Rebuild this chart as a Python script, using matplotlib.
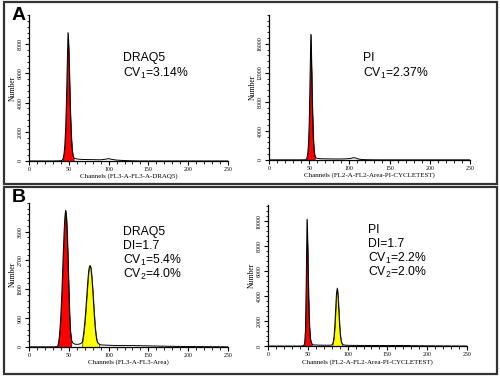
import matplotlib
matplotlib.use("Agg")
import matplotlib.pyplot as plt
from matplotlib.patches import Rectangle
from matplotlib.ticker import AutoMinorLocator

plt.rcParams['font.family'] = ['Liberation Sans', 'DejaVu Sans']
plt.rcParams['mathtext.fontset'] = 'custom'
plt.rcParams['mathtext.rm'] = 'Liberation Sans'

# panel A left: DRAQ5 (one peak)
ch_a1 = [0, 30, 38, 41, 42, 43, 44, 45, 46, 47, 48, 49, 50, 51, 52, 53, 54, 55, 56, 57, 60, 65,
         70, 80, 90, 96, 100, 104, 110, 120, 130, 140, 250]
n_a1 = [0, 0, 10, 30, 80, 200, 500, 1100, 2200, 4000, 6500, 8800, 7600, 5400, 3300, 1800, 900, 450, 250, 180, 140, 110,
        100, 90, 80, 120, 160, 110, 60, 30, 10, 0, 0]
red_a1 = (42, 56)

# panel A right: PI (one peak)
ch_a2 = [0, 40, 45, 46, 47, 48, 49, 50, 51, 52, 53, 54, 55, 56, 57, 58, 60, 65, 75, 85, 95,
         102, 105, 108, 111, 116, 125, 140, 250]
n_a2 = [0, 0, 10, 40, 200, 700, 2000, 5000, 11000, 17300, 12500, 7000, 3200, 1300, 550, 300, 200, 150, 130, 120, 130,
        200, 300, 250, 120, 40, 10, 0, 0]
red_a2 = (46, 57)

# panel B left: DRAQ5 (G1 + G2)
ch_b1 = [0, 30, 35, 36, 37, 38, 39, 40, 41, 42, 43, 44, 45, 46, 47, 48, 49, 50, 51, 52, 53, 55, 58, 62, 65,
         67, 68, 69, 70, 71, 72, 73, 74, 75, 76, 77, 78, 79, 80, 81, 82, 83, 84, 85, 86, 88, 90,
         100, 110, 130, 150, 170, 200, 250]
n_b1 = [0, 0, 5, 20, 120, 300, 600, 1000, 1550, 2200, 2900, 3550, 4050, 4265, 4050, 3500, 2700, 1800, 1000, 500, 250,
        120, 80, 80, 100,
        150, 300, 500, 750, 1050, 1400, 1750, 2100, 2380, 2520, 2540, 2420, 2150, 1800, 1400, 1000, 650, 400, 230,
        140, 90, 60, 50, 40, 40, 30, 20, 10, 0]
red_b1 = (36, 53)
yel_b1 = (67, 88)

# panel B right: PI (G1 + G2)
ch_b2 = [0, 40, 45, 46, 47, 48, 49, 50, 51, 52, 53, 54, 55, 57, 62, 70, 78, 80,
         81, 82, 83, 84, 85, 86, 87, 88, 89, 90, 91, 92, 93, 95, 100, 120, 150, 175, 180, 200, 250]
n_b2 = [0, 0, 30, 250, 1200, 5000, 10160, 7500, 3800, 1700, 700, 330, 180, 100, 80, 70, 70, 90,
        150, 350, 800, 1700, 3000, 4200, 4640, 4000, 2800, 1600, 800, 380, 180, 90, 60, 50, 40, 50, 30, 20, 0]
red_b2 = (45, 55)
yel_b2 = (81, 93)

panels = [
    dict(rect=[0.058, 0.573, 0.398, 0.387], ch=ch_a1, n=n_a1, fills=[(red_a1, 'red')],
         ylim=10000, yticks=[0, 2000, 4000, 6000, 8000],
         xlabel='Channels (FL3-A-FL3-A-DRAQ5)',
         text=['DRAQ5', 'CV$_\\mathrm{1}$=3.14%'], tx=123, ty=58, dy=15),
    dict(rect=[0.538, 0.576, 0.402, 0.385], ch=ch_a2, n=n_a2, fills=[(red_a2, 'red')],
         ylim=20000, yticks=[0, 4000, 8000, 12000, 16000],
         xlabel='Channels (FL2-A-FL2-Area-PI-CYCLETEST)',
         text=['PI', 'CV$_\\mathrm{1}$=2.37%'], tx=363, ty=58, dy=15),
    dict(rect=[0.058, 0.080, 0.398, 0.382], ch=ch_b1, n=n_b1,
         fills=[(red_b1, 'red'), (yel_b1, 'yellow')],
         ylim=4500, yticks=[0, 900, 1800, 2700, 3600],
         xlabel='Channels (FL3-A-FL3-Area)',
         text=['DRAQ5', 'DI=1.7', 'CV$_\\mathrm{1}$=5.4%', 'CV$_\\mathrm{2}$=4.0%'], tx=123, ty=232, dy=14),
    dict(rect=[0.536, 0.082, 0.398, 0.374], ch=ch_b2, n=n_b2,
         fills=[(red_b2, 'red'), (yel_b2, 'yellow')],
         ylim=11300, yticks=[0, 2000, 4000, 6000, 8000, 10000],
         xlabel='Channels (FL2-A-FL2-Area-PI-CYCLETEST)',
         text=['PI', 'DI=1.7', 'CV$_\\mathrm{1}$=2.2%', 'CV$_\\mathrm{2}$=2.0%'], tx=368, ty=230, dy=14),
]

fig = plt.figure(figsize=(5, 3.77), dpi=100)
W, H = 500, 377

for p in panels:
    ax = fig.add_axes(p['rect'])
    ax.plot(p['ch'], p['n'], color='black', lw=0.7)
    for (lo, hi), col in p['fills']:
        mask = [lo <= c <= hi for c in p['ch']]
        ax.fill_between(p['ch'], p['n'], where=mask, color=col, edgecolor='black', lw=0.4)
    ax.set_xlim(0, 250)
    ax.set_ylim(0, p['ylim'])
    ax.set_xticks([0, 50, 100, 150, 200, 250])
    ax.set_yticks(p['yticks'])
    ax.xaxis.set_minor_locator(AutoMinorLocator(5))
    ax.yaxis.set_minor_locator(AutoMinorLocator(5))
    for s in ['top', 'right']:
        ax.spines[s].set_visible(False)
    for s in ['left', 'bottom']:
        ax.spines[s].set_linewidth(0.9)
    ax.tick_params(which='major', length=3, width=0.8, pad=1.5, labelsize=4.2)
    ax.tick_params(which='minor', length=1.8, width=0.6)
    for lab in ax.get_xticklabels() + ax.get_yticklabels():
        lab.set_family('Liberation Serif')
    for lab in ax.get_yticklabels():
        lab.set_rotation(90)
        lab.set_va('center')
    ax.set_xlabel(p['xlabel'], family='Liberation Serif', fontsize=5, labelpad=1)
    ax.set_ylabel('Number', family='Liberation Serif', fontsize=5.5, labelpad=1)
    for i, t in enumerate(p['text']):
        fig.text(p['tx'] / W, 1 - (p['ty'] + i * p['dy']) / H, t, fontsize=8.8, va='center', ha='left')

# panel frames
fig.patches.append(Rectangle((4 / W, 1 - 184 / H), 493 / W, 182 / H, transform=fig.transFigure,
                             fill=False, edgecolor='#333333', lw=1.6))
fig.patches.append(Rectangle((4 / W, 1 - 374 / H), 493 / W, 187 / H, transform=fig.transFigure,
                             fill=False, edgecolor='#333333', lw=1.6))
fig.text(19 / W, 1 - 15 / H, 'A', fontsize=14, fontweight='bold', ha='center', va='center')
fig.text(19 / W, 1 - 198 / H, 'B', fontsize=14, fontweight='bold', ha='center', va='center')

fig.savefig('out.png', dpi=100)
